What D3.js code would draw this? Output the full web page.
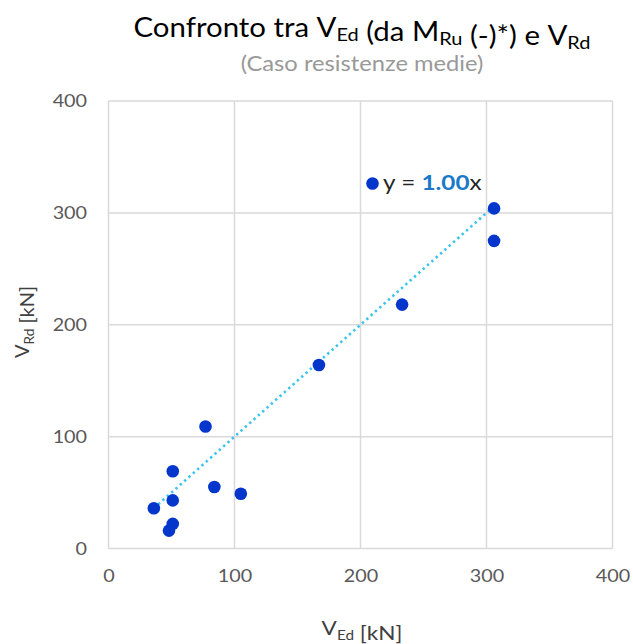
<!DOCTYPE html>
<html>
<head>
<meta charset="utf-8">
<script src="https://cdn.jsdelivr.net/npm/d3@7"></script>
<style>
  html, body { margin: 0; padding: 0; background: #fff; }
  svg { display: block; font-family: Lato, "Open Sans", "Liberation Sans", sans-serif; }
</style>
</head>
<body>
<script>
// Shear demand (from plastic moment) vs shear resistance, in kN
const vEd = [36, 48, 51, 51, 51, 77, 84, 105, 167, 233, 306, 306];
const vRd = [36, 16, 22, 43, 69, 109, 55, 49, 164, 218, 304, 275];
const xTicks = [0, 100, 200, 300, 400];
const yTicks = [0, 100, 200, 300, 400];
const trendSlope = 1.00;

const W = 633, H = 644;
const SX = 1.13; // horizontal text stretch
const svg = d3.select("body").append("svg").attr("width", W).attr("height", H);

const x = d3.scaleLinear().domain([0, 400]).range([108.5, 612.5]);
const y = d3.scaleLinear().domain([0, 400]).range([548.5, 101]);

// gridlines
const grid = svg.append("g").attr("stroke", "#d9d9d9").attr("stroke-width", 1.5);
grid.selectAll("line.v").data(xTicks).join("line")
  .attr("x1", d => x(d)).attr("x2", d => x(d))
  .attr("y1", y(0)).attr("y2", y(400));
grid.selectAll("line.h").data(yTicks).join("line")
  .attr("x1", x(0)).attr("x2", x(400))
  .attr("y1", d => y(d)).attr("y2", d => y(d));

// axes (labels only)
const xAxis = svg.append("g").attr("transform", `translate(0,${y(0)})`)
  .call(d3.axisBottom(x).tickValues(xTicks).tickSize(0).tickPadding(21));
const yAxis = svg.append("g").attr("transform", `translate(${x(0)},0)`)
  .call(d3.axisLeft(y).tickValues(yTicks).tickSize(0).tickPadding(19));
[xAxis, yAxis].forEach(a => {
  a.select(".domain").remove();
  a.selectAll("text").attr("fill", "#595959").attr("font-size", 17.5)
    .attr("font-family", "Lato, 'Open Sans', sans-serif")
    .attr("transform", `scale(${SX},1)`);
});

// linear trendline through the origin
const xs = d3.extent(vEd);
svg.append("line")
  .attr("x1", x(xs[0])).attr("y1", y(trendSlope * xs[0]))
  .attr("x2", x(xs[1])).attr("y2", y(trendSlope * xs[1]))
  .attr("stroke", "#3cc3f2").attr("stroke-width", 2.6)
  .attr("stroke-dasharray", "2.4,3.4");

// data points
svg.append("g").selectAll("circle").data(vEd.map((d, i) => [d, vRd[i]])).join("circle")
  .attr("cx", d => x(d[0])).attr("cy", d => y(d[1])).attr("r", 6.3)
  .attr("fill", "#0536cc");

// stretched text helper
function label(px, py, anchor, size, fill, rot) {
  const g = svg.append("g")
    .attr("transform", `translate(${px},${py})` + (rot ? ` rotate(${rot})` : ` scale(${SX},1)`));
  return g.append("text").attr("text-anchor", anchor).attr("font-size", size).attr("fill", fill);
}
const sub = (sel, main, s, dy) => {
  sel.append("tspan").text(main);
  sel.append("tspan").attr("font-size", "0.68em").attr("dy", dy).text(s);
  sel.append("tspan").attr("dy", -dy).text("");
};

// legend / equation
svg.append("circle").attr("cx", 372.5).attr("cy", 183.5).attr("r", 6.3).attr("fill", "#0536cc");
const eq = label(383, 190, "start", 21.5, "#262626");
eq.append("tspan").text("y = ");
eq.append("tspan").attr("fill", "#1b78c8").attr("font-weight", "bold").text(trendSlope.toFixed(2));
eq.append("tspan").text("x");

// titles
const t = label(362, 37, "middle", 26, "#000");
t.append("tspan").text("Confronto tra ");
sub(t, "V", "Ed", 4);
t.append("tspan").text(" (da ");
sub(t, "M", "Ru", 4);
t.append("tspan").text(" (-)*) e ");
sub(t, "V", "Rd", 4);

label(362, 71, "middle", 21, "#999999").text("(Caso resistenze medie)");

// axis titles
const xt = label(362, 635, "middle", 20, "#404040");
sub(xt, "V", "Ed", 5);
xt.append("tspan").text(" [kN]");

const yt = label(29, 322, "middle", 20, "#404040", -90);
sub(yt, "V", "Rd", 5);
yt.append("tspan").text("  [kN]");
</script>
</body>
</html>
